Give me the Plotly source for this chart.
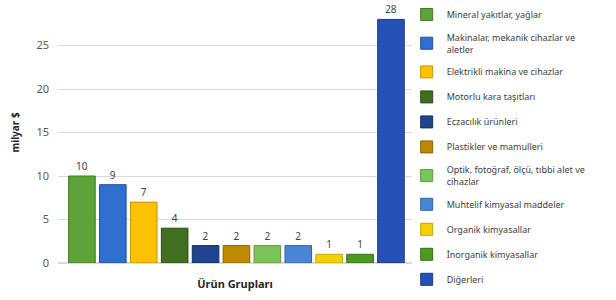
import plotly.graph_objects as go

categories = [
    "Mineral yakıtlar, yağlar",
    "Makinalar, mekanik cihazlar ve<br>aletler",
    "Elektrikli makina ve cihazlar",
    "Motorlu kara taşıtları",
    "Eczacılık ürünleri",
    "Plastikler ve mamulleri",
    "Optik, fotoğraf, ölçü, tıbbi alet ve<br>cihazlar",
    "Muhtelif kimyasal maddeler",
    "Organik kimyasallar",
    "İnorganik kimyasallar",
    "Diğerleri",
]
values = [10, 9, 7, 4, 2, 2, 2, 2, 1, 1, 28]
colors = ["#5ea33a", "#2f6fd1", "#fcc200", "#3e6e1e", "#1f4590", "#bf8a00",
          "#7cc35a", "#4a86d6", "#f5d000", "#4c9a22", "#2552b4"]
edge = ["#3f7a22", "#1f4f9e", "#c99600", "#2a4d12", "#142e66", "#8a6300",
        "#5a9a3c", "#2f62a8", "#c4a400", "#336d15", "#183a85"]

fig = go.Figure()
for i, (c, v) in enumerate(zip(categories, values)):
    fig.add_trace(go.Bar(
        x=[i], y=[v], name=c,
        marker=dict(color=colors[i], line=dict(color=edge[i], width=1)),
        text=[str(v)], textposition="outside",
        textfont=dict(size=10, color="#404040"),
        cliponaxis=False, legendgroup="g%d" % i, width=0.86,
    ))

fig.update_layout(
    width=616, height=300,
    margin=dict(l=58, r=204, t=0, b=0, autoexpand=False),
    paper_bgcolor="white", plot_bgcolor="white",
    font=dict(family="Noto Sans", color="#404040"),
    showlegend=True,
    legend=dict(x=0.985, xanchor="left", y=1.0, yanchor="top",
                font=dict(size=9, color="#404040"),
                tracegroupgap=6, itemwidth=30, traceorder="grouped",
                bgcolor="rgba(0,0,0,0)"),
    xaxis=dict(range=[-0.775, 10.68], showticklabels=False, showgrid=False,
               zeroline=False, ticks="", automargin=False,
               title=dict(text="<b>Ürün Grupları</b>", font=dict(size=11, color="#262626"),
                          standoff=17)),
    yaxis=dict(range=[0, 30], dtick=5, showgrid=True, gridcolor="#d9d9d9",
               domain=[37 / 300, 298 / 300], automargin=False,
               gridwidth=1, zeroline=True, zerolinecolor="#d9d9d9",
               tickfont=dict(size=11, color="#595959"), ticks="",
               ticklabelstandoff=8,
               title=dict(text="<b>milyar $</b>", font=dict(size=10, color="#262626"),
                          standoff=14)),
)

fig.write_html("out.html", config={"displayModeBar": False},
               post_script="document.body.style.margin='0';document.body.style.overflow='hidden';")
